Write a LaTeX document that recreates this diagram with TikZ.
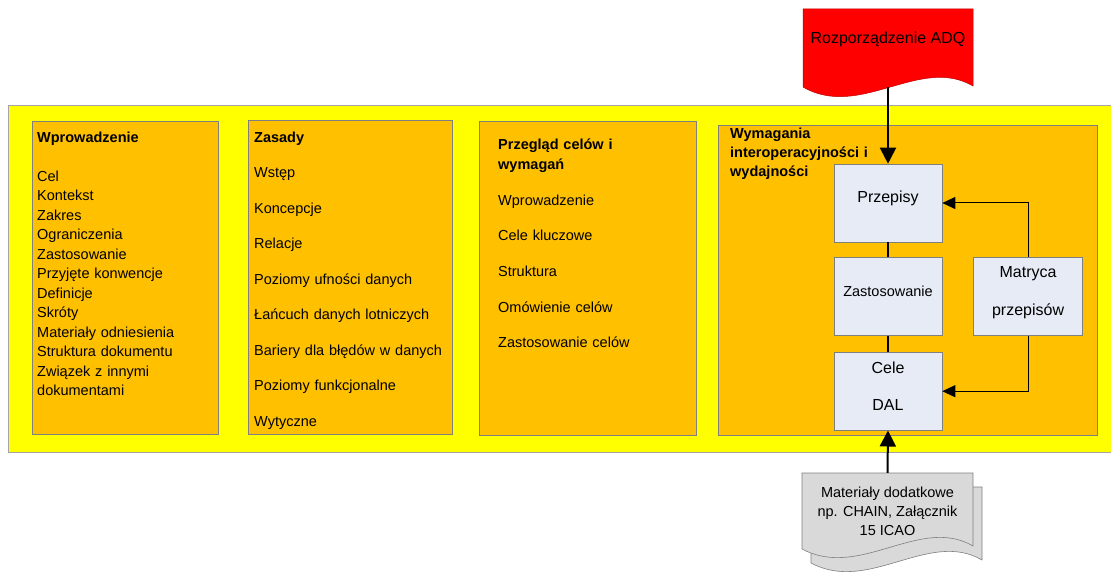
\documentclass[tikz,border=0pt]{standalone}
\usepackage{fontspec}
\setmainfont{Liberation Sans}
\usetikzlibrary{positioning,arrows.meta}

\definecolor{bandyellow}{HTML}{FFFF00}
\definecolor{partorange}{HTML}{FFC000}
\definecolor{rulefill}{HTML}{E6EBF5}
\definecolor{docgray}{HTML}{D9D9D9}
\definecolor{docred}{HTML}{FF0000}
\definecolor{edgegray}{HTML}{7F7F7F}

\begin{document}
\begin{tikzpicture}[x=1pt, y=-1pt]
    \tikzset{part/.style={rectangle, draw=edgegray, fill=partorange,
        line width=0.8pt, anchor=north west, inner sep=0pt}}
    \tikzset{part text/.style={anchor=north west, inner sep=0pt, align=left,
        text width=#1}}
    \tikzset{rule/.style={rectangle, draw=edgegray, fill=rulefill,
        line width=0.6pt, minimum width=108pt, minimum height=78pt,
        align=center, text height=8pt, text depth=8pt}}
    \tikzset{main arrow/.style={line width=2pt,
        -{Triangle[length=16pt, width=16pt]}}}
    \tikzset{side arrow/.style={line width=1pt,
        -{Triangle[length=13pt, width=12pt]}}}
    \tikzset{body/.style={font=\fontsize{14.5}{#1}\selectfont}}
    \tikzset{big/.style={font=\fontsize{16}{37.5}\selectfont}}

    \useasboundingbox (0,0) rectangle (1111,572);

    % tlo
    \fill [bandyellow, draw=edgegray!70, line width=0.8pt] (8,105) rectangle (1116,452);

    % cztery czesci
    \node (wprowadzenie) [part, minimum width=186pt, minimum height=313pt] at (32,121) {};
    \node (zasady) [part, minimum width=204pt, minimum height=314pt] at (248,120) {};
    \node (przeglad) [part, minimum width=217pt, minimum height=314pt] at (479,121) {};
    \node (wymagania) [part, minimum width=379pt, minimum height=310pt] at (718,125) {};

    \node (wprowadzenie text) [part text=176pt, body=19.5] at (37,131.6)
        {\textbf{Wprowadzenie}\\[19.5pt] Cel\\ Kontekst\\ Zakres\\ Ograniczenia\\
         Zastosowanie\\ Przyjęte konwencje\\ Definicje\\ Skróty\\
         Materiały odniesienia\\ Struktura dokumentu\\ Związek z innymi\\ dokumentami};
    \node (zasady text) [part text=194pt, body=35.5] at (254,131.6)
        {\textbf{Zasady}\\ Wstęp\\ Koncepcje\\ Relacje\\ Poziomy ufności danych\\
         Łańcuch danych lotniczych\\ Bariery dla błędów w danych\\
         Poziomy funkcjonalne\\ Wytyczne};
    \node (przeglad text) [part text=195pt, body=35.7] at (498,138.6)
        {\textbf{Przegląd celów i}\\[-15.7pt] \textbf{wymagań}\\ Wprowadzenie\\
         Cele kluczowe\\ Struktura\\ Omówienie celów\\ Zastosowanie celów};
    \node (wymagania text) [part text=200pt, body=19] at (730,127.6)
        {\textbf{Wymagania}\\ \textbf{interoperacyjności i}\\ \textbf{wydajności}};

    % bloki wewnatrz
    \node (przepisy) [rule, big] at (888,203) {Przepisy};
    \node (zastosowanie) [rule, body=19, below=15pt of przepisy] {Zastosowanie};
    \node (cele) [rule, big, text height=47pt, below=16pt of zastosowanie] {Cele\\DAL};
    \node (matryca) [rule, big, text height=45pt, minimum width=109pt,
        right=31pt of zastosowanie] {Matryca\\przepisów};

    \draw [line width=2pt] (przepisy) -- (zastosowanie);
    \draw [line width=2pt] (zastosowanie) -- (cele);
    \draw [side arrow] (matryca.north) |- (przepisy.east);
    \draw [side arrow] (matryca.south) |- (cele.east);

    % dokumenty
    \fill [docred, draw=red!75!black, line width=0.5pt] (803,9) -- (973,9) -- (973,86)
        .. controls (920,55) and (860,120) .. (803,87) -- cycle;
    \node (adq) [font=\fontsize{16}{19}\selectfont] at (888,39) {Rozporządzenie ADQ};
    \coordinate (adq end) at (888,87);

    \fill [docgray, draw=edgegray, line width=0.6pt] (811,487) -- (982,487) -- (982,560)
        .. controls (929,529) and (869,594) .. (811,563) -- cycle;
    \fill [docgray, draw=edgegray, line width=0.6pt] (802,473) -- (973,473) -- (973,546)
        .. controls (920,515) and (860,580) .. (802,549) -- cycle;
    \node (materialy) [body=19, align=center, minimum width=171pt, minimum height=76pt]
        at (887.5,511) {Materiały dodatkowe\\np. CHAIN, Załącznik\\15 ICAO};

    \draw [main arrow] (adq end) -- (przepisy.north);
    \draw [main arrow] (materialy.north) -- (cele.south);
\end{tikzpicture}
\end{document}
